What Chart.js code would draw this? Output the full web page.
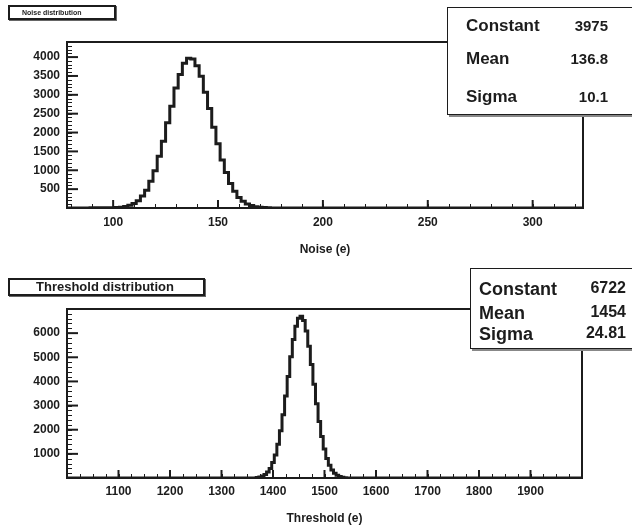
<!DOCTYPE html>
<html><head><meta charset="utf-8">
<script src="https://cdn.jsdelivr.net/npm/chart.js@4/dist/chart.umd.min.js"></script>
<style>
html,body{margin:0;padding:0;background:#fff;width:632px;height:527px;overflow:hidden;position:relative;font-family:"Liberation Sans",Arial,sans-serif;color:#1c1c1c;}
canvas{position:absolute;left:0;}
#c1{top:0;}
#c2{top:262px;}
.tbox{position:absolute;border:2px solid #1c1c1c;background:#fff;box-shadow:1px 1px 0 #666;font-weight:bold;white-space:nowrap;box-sizing:border-box;}
.sbox{position:absolute;border:1.5px solid #1c1c1c;background:#fff;box-shadow:2px 2px 0 #888;font-weight:bold;box-sizing:border-box;}
.sbox span{position:absolute;white-space:nowrap;line-height:1;}
</style></head>
<body>
<canvas id="c1" width="632" height="262"></canvas>
<canvas id="c2" width="632" height="265"></canvas>

<div class="tbox" style="left:8px;top:5px;width:108px;height:15px;font-size:7px;line-height:11px;padding-left:12px;">Noise distribution</div>
<div class="tbox" style="left:8px;top:278px;width:197px;height:18px;font-size:13px;line-height:14px;padding-left:26px;">Threshold distribution</div>

<div class="sbox" style="left:447px;top:7px;width:200px;height:108px;font-size:17px;">
  <span style="left:18px;top:9px;">Constant</span><span style="left:0;width:160px;text-align:right;top:10px;font-size:15px;">3975</span>
  <span style="left:18px;top:42px;">Mean</span><span style="left:0;width:160px;text-align:right;top:43px;font-size:15px;">136.8</span>
  <span style="left:18px;top:80px;">Sigma</span><span style="left:0;width:160px;text-align:right;top:81px;font-size:15px;">10.1</span>
</div>
<div class="sbox" style="left:470px;top:268px;width:200px;height:81px;font-size:18px;">
  <span style="left:8px;top:11px;">Constant</span><span style="left:0;width:155px;text-align:right;top:11px;font-size:16px;">6722</span>
  <span style="left:8px;top:35px;">Mean</span><span style="left:0;width:155px;text-align:right;top:35px;font-size:16px;">1454</span>
  <span style="left:8px;top:56px;">Sigma</span><span style="left:0;width:155px;text-align:right;top:56px;font-size:16px;">24.81</span>
</div>

<script>
// ---- data ----
const noiseBins   = [78, 100, 102, 104, 106, 108, 110, 112, 114, 116, 118, 120, 122, 124, 126, 128, 130, 132, 134, 136, 138, 140, 142, 144, 146, 148, 150, 152, 154, 156, 158, 160, 162, 164, 166, 168, 170, 172, 174, 176, 324];
const noiseCounts = [0, 5, 10, 22, 40, 70, 121, 190, 318, 470, 712, 990, 1370, 1770, 2260, 2700, 3180, 3540, 3840, 3970, 3950, 3770, 3490, 3070, 2640, 2140, 1700, 1270, 940, 650, 445, 280, 180, 104, 63, 33, 19, 10, 5, 0, 0];

const thrBins   = [1000, 1365, 1370, 1375, 1380, 1385, 1390, 1395, 1400, 1405, 1410, 1415, 1420, 1425, 1430, 1435, 1440, 1445, 1450, 1455, 1460, 1465, 1470, 1475, 1480, 1485, 1490, 1495, 1500, 1505, 1510, 1515, 1520, 1525, 1530, 1535, 1540, 1545, 2000];
const thrCounts = [0, 0, 20, 45, 80, 140, 245, 395, 640, 950, 1400, 1960, 2620, 3400, 4200, 5020, 5740, 6290, 6620, 6700, 6520, 6090, 5460, 4700, 3880, 3080, 2340, 1720, 1200, 810, 525, 330, 195, 110, 60, 32, 15, 0, 0];

const noiseXTicks = [100, 150, 200, 250, 300];
const noiseYTicks = [500, 1000, 1500, 2000, 2500, 3000, 3500, 4000];
const thrXTicks   = [1100, 1200, 1300, 1400, 1500, 1600, 1700, 1800, 1900];
const thrYTicks   = [1000, 2000, 3000, 4000, 5000, 6000];

const INK = '#1c1c1c';

const framePlugin = {
  id: 'frameTicks',
  afterDatasetsDraw(chart, args, o) {
    const {ctx, chartArea: a, scales: {x, y}} = chart;
    ctx.save();
    ctx.strokeStyle = INK;
    const seg = (x1, y1, x2, y2) => { ctx.beginPath(); ctx.moveTo(x1, y1); ctx.lineTo(x2, y2); ctx.stroke(); };
    ctx.lineWidth = 1;
    for (let v = y.min + o.yMinor; v < y.max; v += o.yMinor) {
      const p = Math.round(y.getPixelForValue(v)) + 0.5; seg(a.left, p, a.left + 5, p);
    }
    for (let v = Math.ceil(x.min / o.xMinor) * o.xMinor; v < x.max; v += o.xMinor) {
      const p = Math.round(x.getPixelForValue(v)) + 0.5; seg(p, a.bottom, p, a.bottom - 4);
    }
    ctx.lineWidth = 2;
    y.ticks.forEach(t => { const p = y.getPixelForValue(t.value); seg(a.left, p, a.left + 11, p); });
    x.ticks.forEach(t => { const p = x.getPixelForValue(t.value); seg(p, a.bottom, p, a.bottom - 8); });
    ctx.lineWidth = 2;
    ctx.strokeRect(a.left, a.top, a.width, a.height);
    ctx.restore();
  }
};

function makeChart(id, bins, counts, xr, ymax, xTicks, yTicks, minor, pad, xH, title, xPad, titlePad) {
  const tickFont = {family: '"Liberation Sans", Arial, sans-serif', weight: 'bold', size: 12};
  return new Chart(document.getElementById(id), {
    type: 'line',
    data: { datasets: [{
      data: bins.map((b, i) => ({x: b, y: counts[i]})),
      stepped: 'middle', borderColor: INK, borderWidth: 3, pointRadius: 0, fill: false
    }]},
    options: {
      responsive: false, animation: false,
      layout: {padding: {top: pad.top, right: pad.right, left: 0, bottom: 0}},
      plugins: {legend: {display: false}, tooltip: {enabled: false}, frameTicks: minor},
      scales: {
        x: {
          type: 'linear', min: xr[0], max: xr[1],
          afterBuildTicks: s => { s.ticks = xTicks.map(v => ({value: v})); },
          afterFit: s => { s.height = xH; },
          grid: {display: false, drawTicks: false}, border: {display: false},
          ticks: {color: INK, font: tickFont, padding: xPad, autoSkip: false, maxRotation: 0,
                  callback: v => String(v)},
          title: {display: true, text: title, color: INK,
                  font: {family: '"Liberation Sans", Arial, sans-serif', weight: 'bold', size: 12},
                  padding: {top: 0, bottom: titlePad}}
        },
        y: {
          min: 0, max: ymax,
          afterBuildTicks: s => { s.ticks = yTicks.map(v => ({value: v})); },
          afterFit: s => { s.width = 67; },
          grid: {display: false, drawTicks: false}, border: {display: false},
          ticks: {color: INK, font: tickFont, padding: 7, autoSkip: false, callback: v => String(v)}
        }
      }
    },
    plugins: [framePlugin]
  });
}

makeChart('c1', noiseBins, noiseCounts, [78, 324], 4400, noiseXTicks, noiseYTicks,
  {xMinor: 10, yMinor: 100}, {top: 42, right: 49}, 54, 'Noise (e)', 7, 5);
makeChart('c2', thrBins, thrCounts, [1000, 2000], 7000, thrXTicks, thrYTicks,
  {xMinor: 25, yMinor: 200}, {top: 47, right: 50}, 49, 'Threshold (e)', 6, 1);
</script>
</body></html>
